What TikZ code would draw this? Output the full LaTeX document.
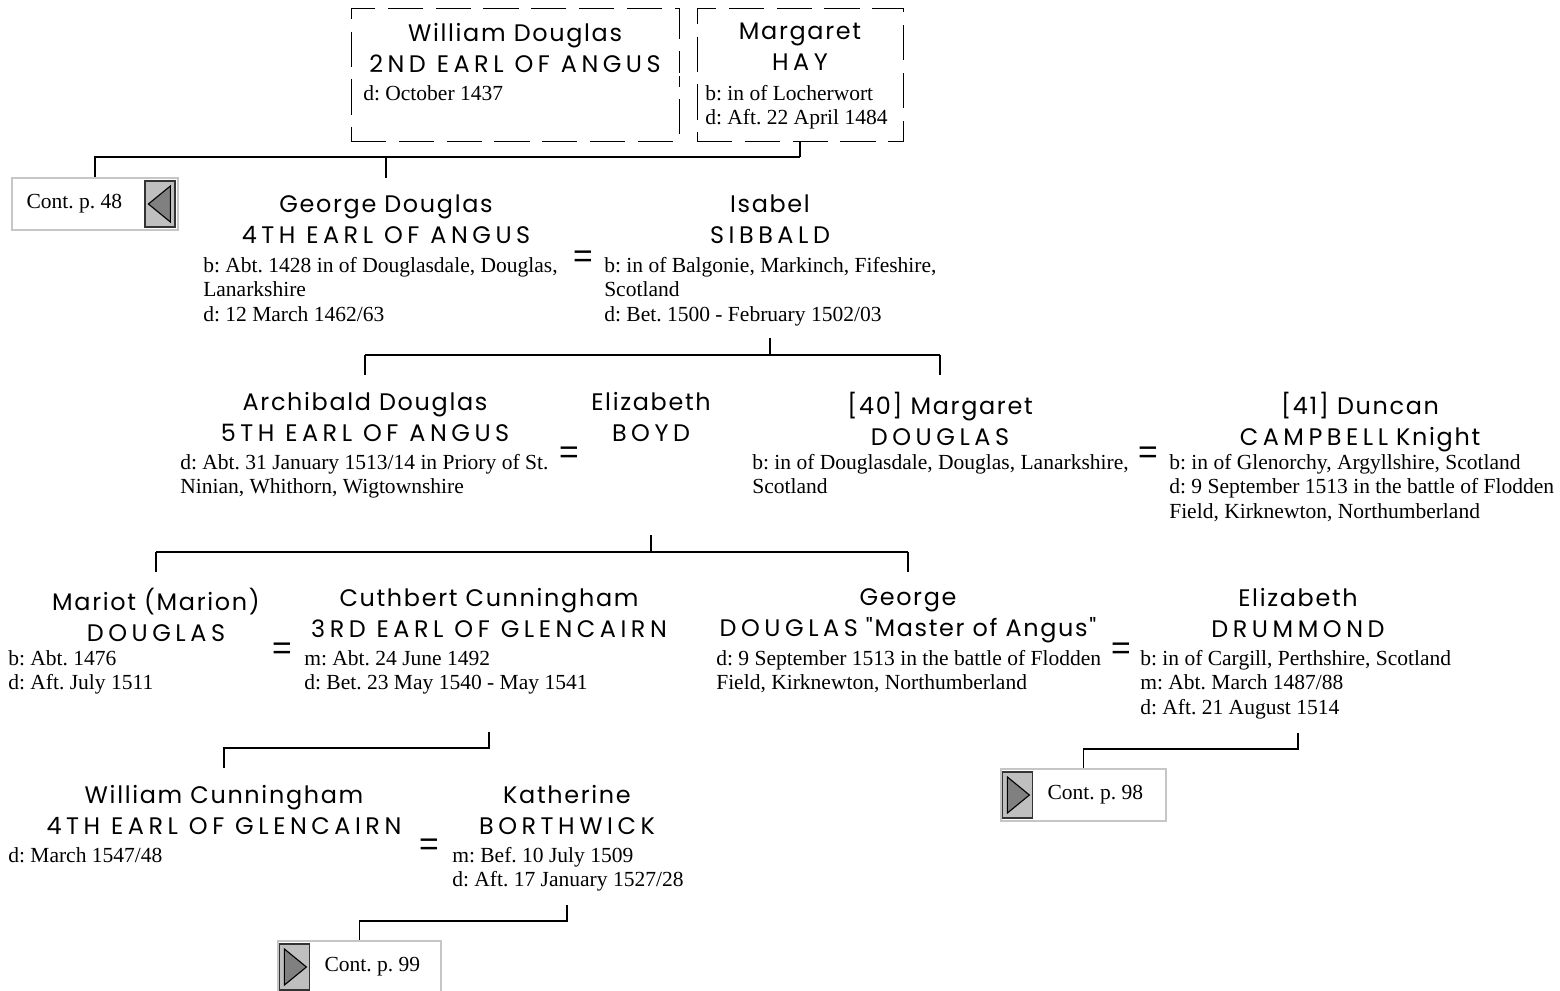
\documentclass[tikz,border=0pt]{standalone}
\usepackage{fontspec}
\setmainfont{Liberation Serif}
\newfontfamily\namefont[LetterSpace=7]{Poppins}
\newfontfamily\titlefont[LetterSpace=19]{Poppins}
\newfontfamily\eqfont{Liberation Sans}
\usetikzlibrary{positioning}
\frenchspacing

\tikzset{
  namebox/.style={font=\namefont\fontsize{17}{22}\selectfont, align=center, anchor=north, inner sep=0pt,
    execute at begin node={\rule{0pt}{14pt}}},
  infobox/.style={font=\fontsize{15.3}{17.4}\selectfont, align=left, anchor=north west, inner sep=0pt},
  eqsign/.style={font=\eqfont\fontsize{24}{24}\selectfont, inner sep=0pt},
  famline/.style={line width=1.3pt},
  spousebox/.style={draw, dash pattern=on 25pt off 9pt, line width=0.6pt},
  contbox/.style={draw=gray!45, line width=1pt, minimum height=1.3cm},
  contarrow/.style={draw=black!80, fill=gray!50, line width=0.8pt, minimum width=0.75cm, minimum height=1.15cm, inner sep=0pt},
  contlabel/.style={font=\fontsize{15.3}{17.4}\selectfont, inner sep=0pt}
}

\begin{document}
\begin{tikzpicture}[x=0.025cm,y=-0.025cm]
\useasboundingbox (0,0) rectangle (1560,991);

% top couple
\node[spousebox, minimum width=8.2cm, minimum height=3.325cm] (wdouglasBox) at (515,74.5) {};
\node[spousebox, minimum width=5.15cm, minimum height=3.325cm] (mhayBox) at (800,74.5) {};
\node[namebox] (wdouglas) at (515,23) {William Douglas\\\titlefont 2ND EARL OF ANGUS};
\node[infobox] (wdouglasInfo) at (363,85) {d: October 1437};
\node[namebox] (mhay) at (800,23) {Margaret\\\titlefont HAY};
\node[infobox] (mhayInfo) at (705,85) {b: in of Locherwort\\d: Aft. 22 April 1484};
\draw[double, double distance=0.0625cm, line width=0.5pt] (wdouglasBox.east |- 0,74.5) -- (mhayBox.west |- 0,74.5);

% continuation p. 48
\node[contbox, minimum width=4.15cm] (cont48) at (95,204) {};
\node[contarrow, anchor=east] (cont48arr) at ([xshift=-0.08cm]cont48.east) {};
\draw[fill=gray, line width=0.8pt] (cont48arr.west) ++(4,0) -- ++(22,-18) -- ++(0,36) -- cycle;
\node[contlabel, anchor=west] (cont48lbl) at ([xshift=0.375cm]cont48.west) {Cont. p. 48};

% second generation
\node[namebox] (gdouglas) at (386,195) {George Douglas\\\titlefont 4TH EARL OF ANGUS};
\node[infobox] (gdouglasInfo) at (203,257) {b: Abt. 1428 in of Douglasdale, Douglas,\\Lanarkshire\\d: 12 March 1462/63};
\node[eqsign] (eqB) at (583,259) {=};
\node[namebox] (isibbald) at (770,195) {Isabel\\\titlefont SIBBALD};
\node[infobox] (isibbaldInfo) at (604,257) {b: in of Balgonie, Markinch, Fifeshire,\\Scotland\\d: Bet. 1500 - February 1502/03};

\coordinate (famA) at (800,157);
\draw[famline] (mhayBox.south) -- (famA);
\draw[famline] (famA) -- (cont48.north |- famA) -- (cont48.north);
\draw[famline] (gdouglas.north |- famA) -- ++(0,21);

% third generation
\node[namebox] (adouglas) at (365,392) {Archibald Douglas\\\titlefont 5TH EARL OF ANGUS};
\node[infobox] (adouglasInfo) at (180,454) {d: Abt. 31 January 1513/14 in Priory of St.\\Ninian, Whithorn, Wigtownshire};
\node[eqsign] (eqC1) at (569,455) {=};
\node[namebox] (eboyd) at (651,392) {Elizabeth\\\titlefont BOYD};
\node[namebox] (mdouglas) at (940,392) {[40] Margaret\\\titlefont DOUGLAS};
\node[infobox] (mdouglasInfo) at (752,454) {b: in of Douglasdale, Douglas, Lanarkshire,\\Scotland};
\node[eqsign] (eqC2) at (1148,455) {=};
\node[namebox] (dcampbell) at (1360,392) {[41] Duncan\\{\titlefont CAMPBELL} Knight};
\node[infobox] (dcampbellInfo) at (1169,454) {b: in of Glenorchy, Argyllshire, Scotland\\d: 9 September 1513 in the battle of Flodden\\Field, Kirknewton, Northumberland};

\coordinate (famB) at (770,338);
\coordinate (barB) at (770,355);
\draw[famline] (famB) -- (barB);
\draw[famline] (adouglas.north |- barB) -- (mdouglas.north |- barB);
\draw[famline] (adouglas.north |- barB) -- ++(0,20);
\draw[famline] (mdouglas.north |- barB) -- ++(0,20);

% fourth generation
\node[namebox] (mariot) at (156,588) {Mariot (Marion)\\\titlefont DOUGLAS};
\node[infobox] (mariotInfo) at (8,650) {b: Abt. 1476\\d: Aft. July 1511};
\node[eqsign] (eqD1) at (282,651) {=};
\node[namebox] (cuthbert) at (489,588) {Cuthbert Cunningham\\\titlefont 3RD EARL OF GLENCAIRN};
\node[infobox] (cuthbertInfo) at (304,650) {m: Abt. 24 June 1492\\d: Bet. 23 May 1540 - May 1541};
\node[namebox] (georgem) at (908,588) {George\\{\titlefont DOUGLAS} "Master of Angus"};
\node[infobox] (georgemInfo) at (716,650) {d: 9 September 1513 in the battle of Flodden\\Field, Kirknewton, Northumberland};
\node[eqsign] (eqD2) at (1121,651) {=};
\node[namebox] (edrummond) at (1298,588) {Elizabeth\\\titlefont DRUMMOND};
\node[infobox] (edrummondInfo) at (1140,650) {b: in of Cargill, Perthshire, Scotland\\m: Abt. March 1487/88\\d: Aft. 21 August 1514};

\coordinate (famC) at (651,535);
\coordinate (barC) at (651,552);
\draw[famline] (famC) -- (barC);
\draw[famline] (mariot.north |- barC) -- (georgem.north |- barC);
\draw[famline] (mariot.north |- barC) -- ++(0,20);
\draw[famline] (georgem.north |- barC) -- ++(0,20);

% continuation p. 98
\node[contbox, minimum width=4.125cm] (cont98) at (1083.5,795) {};
\node[contarrow, anchor=west] (cont98arr) at ([xshift=0.05cm]cont98.west) {};
\draw[fill=gray, line width=0.8pt] (cont98arr.east) ++(-4,0) -- ++(-22,-18) -- ++(0,36) -- cycle;
\node[contlabel, anchor=west] (cont98lbl) at ([xshift=1.175cm]cont98.west) {Cont. p. 98};

\coordinate (famD2) at (1298,733);
\draw[famline] (famD2) -- (famD2 |- 0,749) -- (cont98.north |- 0,749) -- (cont98.north);

% fifth generation
\node[namebox] (wcunningham) at (224,785) {William Cunningham\\\titlefont 4TH EARL OF GLENCAIRN};
\node[infobox] (wcunninghamInfo) at (8,847) {d: March 1547/48};
\node[eqsign] (eqE) at (429,847) {=};
\node[namebox] (kborthwick) at (567,785) {Katherine\\\titlefont BORTHWICK};
\node[infobox] (kborthwickInfo) at (452,847) {m: Bef. 10 July 1509\\d: Aft. 17 January 1527/28};

\coordinate (famD1) at (489,732);
\draw[famline] (famD1) -- (famD1 |- 0,748) -- (wcunningham.north |- 0,748) -- ++(0,20);

% continuation p. 99
\node[contbox, minimum width=4.075cm] (cont99) at (359.5,967) {};
\node[contarrow, anchor=west] (cont99arr) at ([xshift=0.05cm]cont99.west) {};
\draw[fill=gray, line width=0.8pt] (cont99arr.east) ++(-4,0) -- ++(-22,-18) -- ++(0,36) -- cycle;
\node[contlabel, anchor=west] (cont99lbl) at ([xshift=1.175cm]cont99.west) {Cont. p. 99};

\coordinate (famE) at (567,905);
\draw[famline] (famE) -- (famE |- 0,921) -- (cont99.north |- 0,921) -- (cont99.north);

\end{tikzpicture}
\end{document}
